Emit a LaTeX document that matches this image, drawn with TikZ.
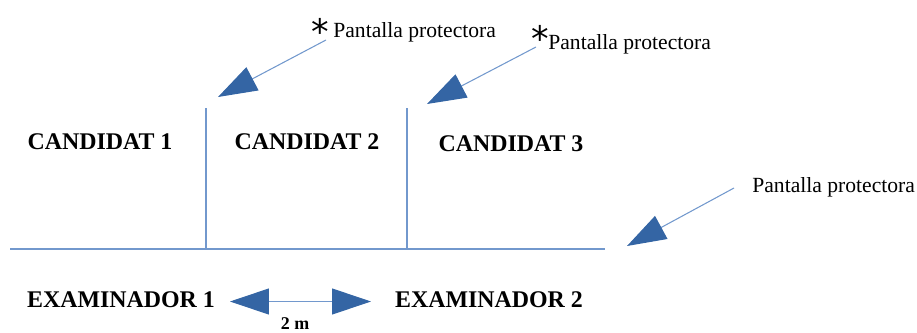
\documentclass[tikz,border=0pt]{standalone}
\usepackage{fontspec}
\setmainfont{Liberation Serif}
\newfontfamily\astfont{DejaVu Sans}
\usetikzlibrary{arrows.meta}
\definecolor{wallblue}{RGB}{114,152,205}
\definecolor{headblue}{RGB}{52,101,164}

\begin{document}
\begin{tikzpicture}[x=0.02cm,y=-0.02cm,
    cand/.style={font=\fontsize{13.6}{16}\selectfont\bfseries, inner sep=0pt},
    lbl/.style={font=\fontsize{12.3}{14}\selectfont, inner sep=0pt, anchor=base west},
    ast/.style={font=\fontsize{20}{22}\astfont, inner sep=0pt},
    wall/.style={draw=wallblue, line width=0.8pt},
    screen/.style={draw=wallblue, line width=0.6pt,
      -{Triangle[length=0.78cm, width=0.52cm, color=headblue]}},
    every node/.style={text=black}
  ]
    \useasboundingbox (0,0) rectangle (917,332);

    % Candidates' room
    \node[cand] (cand1) at (100,142) {CANDIDAT 1};
    \node[cand] (cand2) at (307,142) {CANDIDAT 2};
    \node[cand] (cand3) at (511,144) {CANDIDAT 3};

    % Screens between the candidates
    \coordinate (floorL) at (10,249);
    \coordinate (floorR) at (605,249);
    \draw[wall] (floorL) -- (floorR);
    \foreach \n/\x in {1/206, 2/407} {
      \coordinate (top\n) at (\x,108);
      \coordinate (bot\n) at (\x,249);
      \draw[wall] (top\n) -- (bot\n);
    }

    % Labels of the screens
    \node[ast] (ast1) at (320.5,31) {*};
    \node[lbl] (lbl1) at (333,37) {Pantalla protectora};
    \node[ast] (ast2) at (540,38) {*};
    \node[lbl] (lbl2) at (548,49) {Pantalla protectora};
    \node[lbl] (lbl3) at (752,192) {Pantalla protectora};

    \coordinate (tail1) at (326,40);  \coordinate (tip1) at (218,97);
    \coordinate (tail2) at (536,47);  \coordinate (tip2) at (427,104);
    \coordinate (tail3) at (734,188); \coordinate (tip3) at (627,246);
    \foreach \n in {1,2,3}
      \draw[screen] (tail\n) -- (tip\n);

    % Examiners
    \node[cand] (exam1) at (121,300) {EXAMINADOR 1};
    \node[cand] (exam2) at (489,300) {EXAMINADOR 2};

    \coordinate (distL) at (230,301.5);
    \coordinate (distR) at (371,301.5);
    \draw[draw=wallblue, line width=0.6pt,
      {Triangle[length=0.78cm, width=0.52cm, color=headblue]}-{Triangle[length=0.78cm, width=0.52cm, color=headblue]}]
      (distL) -- (distR);
    \node[font=\fontsize{10.2}{12}\selectfont\bfseries, inner sep=0pt] (dist) at (295,323.5) {2 m};

  \end{tikzpicture}
\end{document}
